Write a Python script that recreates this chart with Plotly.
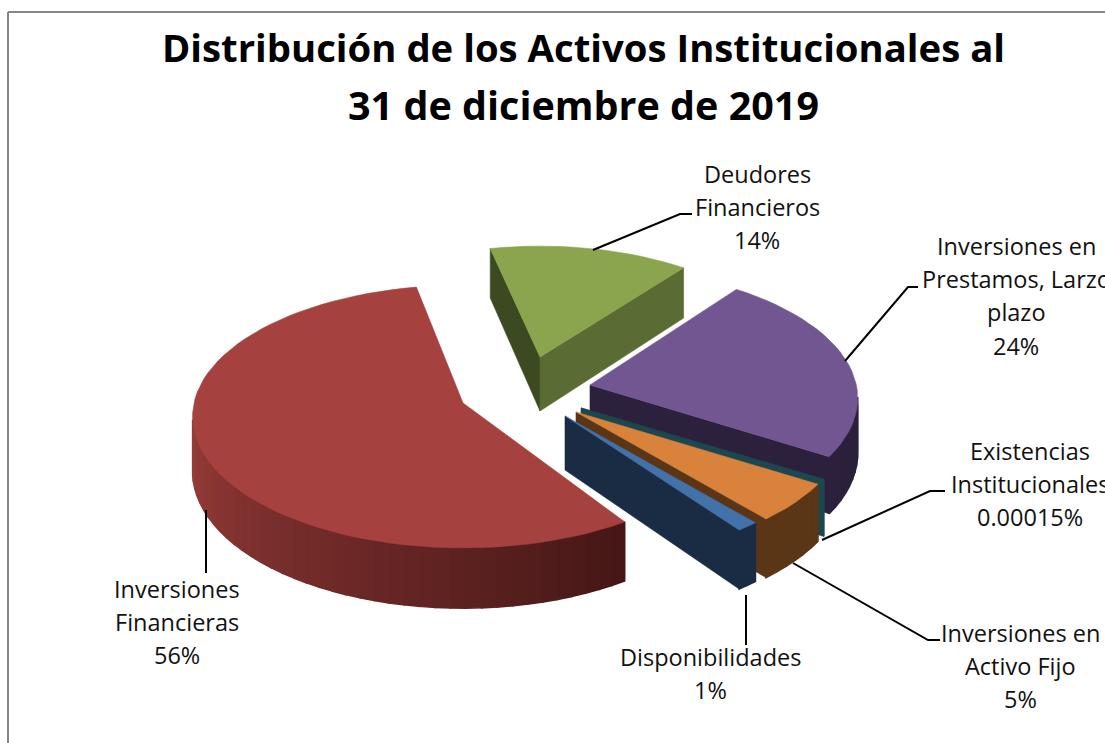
import math
import plotly.graph_objects as go

# ---- data (clockwise from the top of the pie) ----
categories = ["Deudores Financieros", "Inversiones en Prestamos, Larzo plazo",
              "Existencias Institucionales", "Inversiones en Activo Fijo",
              "Disponibilidades", "Inversiones Financieras"]
values = [14.0, 23.7, 0.00015, 4.9, 1.2, 56.2]
label_lines = [["Deudores", "Financieros", "14%"],
               ["Inversiones en", "Prestamos, Larzo", "plazo", "24%"],
               ["Existencias", "Institucionales", "0.00015%"],
               ["Inversiones en", "Activo Fijo", "5%"],
               ["Disponibilidades", "1%"],
               ["Inversiones", "Financieras", "56%"]]
title_lines = ["Distribución de los Activos Institucionales al", "31 de diciembre de 2019"]
title_sizes = [38.3, 39.5]

# ---- styling / layout ----
W, H = 1105, 743
TOP = ["#8AA54E", "#725691", "#1C4650", "#D9823B", "#4371A9", "#A5423F"]
RADIAL = ["#5A6B33", "#2C213C", "#1C4650", "#5A3616", "#192C43", "#4A1A18"]
RADIAL_LEFT = ["#3C4A21", "#2C213C", "#1C4650", "#5A3616", "#192C43", "#4A1A18"]
WALL_A = ["#5A6B33", "#2C213C", "#1C4650", "#5A3616", "#192C43", "#451716"]  # at arc start
WALL_B = ["#5A6B33", "#2C213C", "#1C4650", "#5A3616", "#192C43", "#A0403D"]  # at arc end
APEX = [(540, 357), (590, 385), (581, 408), (576, 412), (565, 416), (463, 403)]
# small per-slice view adjustments that mimic the exploded perspective
ROT = [0.0, -1.4, -1.9, -1.5, -1.6, 1.5]
SCALE = [0.935, 0.99, 1.0, 1.0, 1.0, 1.0]
START = -12.5
R, A, K, DEPTH = 269.0, 130.0, 0.103, 54.0
LABEL_POS = [(757, 174), (1016, 246), (1030, 451), (1020, 633), (710, 657), (177, 589)]
LINE_STEP = 33.2
LEADERS = [[(593, 250), (680, 214), (692, 214)],
           [(845, 361), (908, 287), (918, 287)],
           [(822, 540), (930, 491), (945, 491)],
           [(793, 563), (928, 640), (940, 640)],
           [(746, 595), (746, 645)],
           [(206, 510), (206, 573)]]
FONT = "Open Sans"


def project(i, theta, r=1.0, drop=False):
    t = math.radians(theta + ROT[i])
    r = r * SCALE[i]
    u, v = r * math.sin(t), -r * math.cos(t)
    f = 1.0 / (1.0 - K * v)
    ax, ay = APEX[i]
    return ax + R * u * f, ay + A * v * f + (DEPTH * f if drop else 0.0)


def mix(c1, c2, s):
    a = [int(c1[j:j + 2], 16) for j in (1, 3, 5)]
    b = [int(c2[j:j + 2], 16) for j in (1, 3, 5)]
    return "#%02x%02x%02x" % tuple(round(a[k] + (b[k] - a[k]) * s) for k in range(3))


fig = go.Figure()


def poly(pts, color, lw=0.6):
    xs = [p[0] for p in pts] + [pts[0][0]]
    ys = [p[1] for p in pts] + [pts[0][1]]
    fig.add_trace(go.Scatter(x=xs, y=ys, mode="lines", fill="toself", fillcolor=color,
                             line=dict(color=color, width=lw), hoverinfo="skip", showlegend=False))


total = sum(values)
cum = START
for i, val in enumerate(values):
    a0, a1 = cum, cum + 360.0 * val / total
    cum = a1
    n = max(2, int((a1 - a0) / 3) + 2)
    angles = [a0 + (a1 - a0) * j / (n - 1) for j in range(n)]
    top_pts = [project(i, a) for a in angles]
    drop_pts = [project(i, a, drop=True) for a in angles]
    apex_top = project(i, 0, r=0.0)
    apex_low = project(i, 0, r=0.0, drop=True)

    # radial walls, drawn only when they face the viewer
    if top_pts[0][0] < apex_top[0]:
        poly([apex_top, top_pts[0], drop_pts[0], apex_low], RADIAL_LEFT[i])
    if top_pts[-1][0] > apex_top[0]:
        poly([top_pts[-1], apex_top, apex_low, drop_pts[-1]], RADIAL[i])

    # outer wall, one strip per arc step
    for j in range(n - 1):
        if top_pts[j + 1][0] < top_pts[j][0] or val < 0.01:
            s = (angles[j] - a0) / max(a1 - a0, 1e-6)
            poly([top_pts[j], top_pts[j + 1], drop_pts[j + 1], drop_pts[j]],
                 mix(WALL_A[i], WALL_B[i], min(1.0, s * 1.6)), lw=1.6)

    # top face
    poly([apex_top] + top_pts, TOP[i])

# leaders
for pts in LEADERS:
    fig.add_trace(go.Scatter(x=[p[0] for p in pts], y=[p[1] for p in pts], mode="lines",
                             line=dict(color="#000000", width=2), hoverinfo="skip", showlegend=False))

# frame
fig.add_shape(type="line", x0=8, y0=12, x1=W, y1=12, line=dict(color="#868686", width=2))
fig.add_shape(type="line", x0=8, y0=12, x1=8, y1=H, line=dict(color="#868686", width=2))

# texts
for (cx, cy), lines in zip(LABEL_POS, label_lines):
    for k, line in enumerate(lines):
        fig.add_annotation(x=cx, y=cy + k * LINE_STEP, text=line, showarrow=False,
                           xanchor="center", yanchor="middle",
                           font=dict(family=FONT, size=23.5, color="#111111"))
for k, line in enumerate(title_lines):
    fig.add_annotation(x=583, y=47 + k * 58, text="<b>%s</b>" % line, showarrow=False,
                       xanchor="center", yanchor="middle",
                       font=dict(family=FONT, size=title_sizes[k], color="#000000"))

fig.update_layout(width=W, height=H, margin=dict(l=0, r=0, t=0, b=0),
                  paper_bgcolor="#FFFFFF", plot_bgcolor="#FFFFFF", showlegend=False,
                  xaxis=dict(range=[0, W], visible=False, fixedrange=True),
                  yaxis=dict(range=[H, 0], visible=False, fixedrange=True))
fig.write_html("out.html", config={"displayModeBar": False},
               post_script="document.body.style.margin='0';document.body.style.overflow='hidden';")
